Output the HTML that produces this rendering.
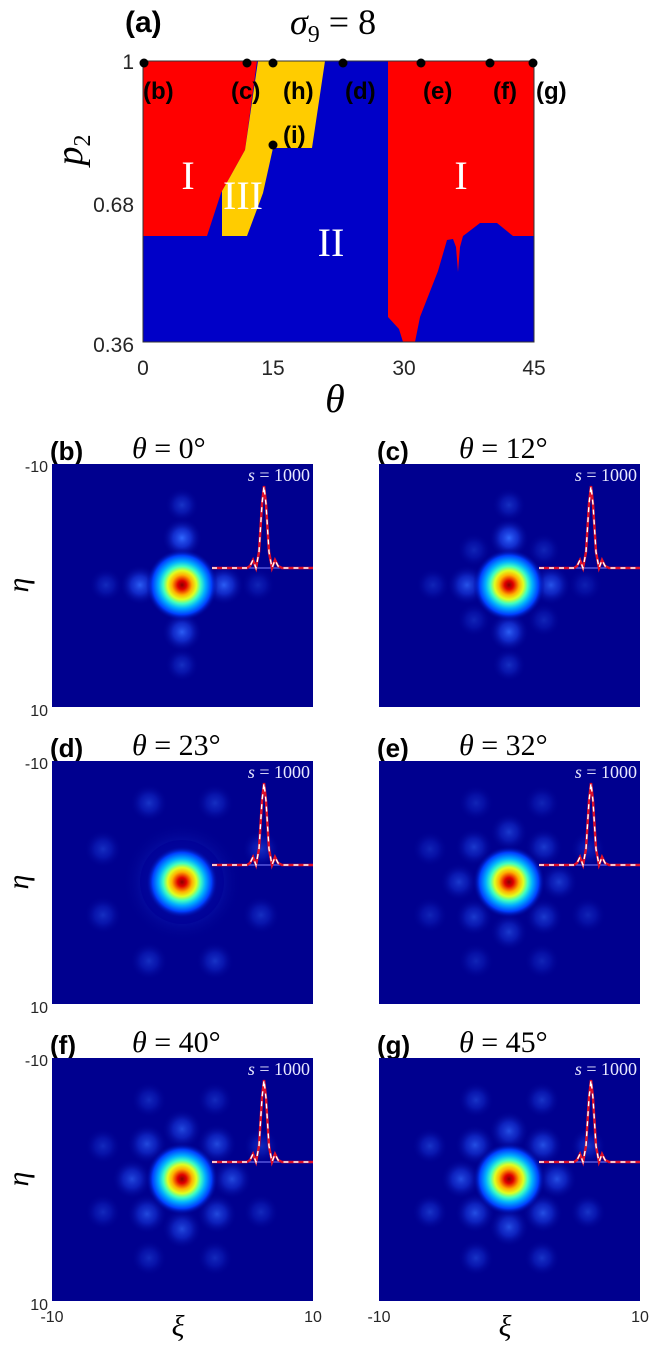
<!DOCTYPE html>
<html><head><meta charset="utf-8"><style>
body{margin:0;background:#fff;}
svg{display:block;}
.tk{font-family:"Liberation Sans",sans-serif;fill:#262626;}
.lb{font-family:"Liberation Sans",sans-serif;font-weight:bold;fill:#000;}
.tm{font-family:"Liberation Serif",serif;}
</style></head><body>
<svg width="650" height="1346" viewBox="0 0 650 1346" xmlns="http://www.w3.org/2000/svg">
<defs>
<radialGradient id="bl"><stop offset="0" stop-color="#3068ff"/><stop offset="0.45" stop-color="#1a40e8" stop-opacity="0.7"/><stop offset="1" stop-color="#00008f" stop-opacity="0"/></radialGradient>
<radialGradient id="core"><stop offset="0" stop-color="#8a0000"/><stop offset="0.12" stop-color="#e00000"/><stop offset="0.28" stop-color="#ffb000"/><stop offset="0.4" stop-color="#e0ff20"/><stop offset="0.52" stop-color="#40ffc0"/><stop offset="0.65" stop-color="#00b0ff"/><stop offset="0.82" stop-color="#0040ff"/><stop offset="1" stop-color="#00008f" stop-opacity="0"/></radialGradient>
<g id="inset">
<line x1="160" y1="104" x2="261" y2="104" stroke="#8080ff" stroke-width="1"/>
<path d="M160,104 L195,104 L198,102 L201,96 L204,104 L207,88 L210,40 L212,22 L214,40 L217,88 L220,104 L223,96 L226,102 L230,104 L261,104" fill="none" stroke="#e0102a" stroke-width="2.5"/>
<path d="M160,104 L195,104 L198,102 L201,96 L204,104 L207,88 L210,40 L212,22 L214,40 L217,88 L220,104 L223,96 L226,102 L230,104 L261,104" fill="none" stroke="#fff" stroke-width="1.4" stroke-dasharray="5,5"/>
<text x="258" y="17" text-anchor="end" class="tm" font-size="18" fill="#e8e8ff"><tspan font-style="italic">s</tspan> = 1000</text>
</g>
</defs>

<!-- Panel (a) -->
<text x="125" y="32" class="lb" font-size="30">(a)</text>
<text x="290" y="34" class="tm" font-size="36" font-style="italic">σ<tspan font-size="24" dy="8" font-style="normal">9</tspan><tspan dy="-8" font-style="normal"> = 8</tspan></text>
<g transform="translate(143,61)">
<rect x="0" y="0" width="391" height="281" fill="#0000c8"/>
<polygon points="0,0 114,0 102,89 87,116 78,132 64,175 0,175" fill="#ff0000"/>
<polygon points="115,0 182,0 169,87 130,87 120,132 104,175 79,175 79,130 87,116 102,89" fill="#ffcc00"/>
<polygon points="245,0 391,0 391,175 370,175 354,162 337,162 324,172 320,175 317,186 315,211 313,186 310,178 304,179 295,210 277,256 272,281 260,281 256,268 245,256" fill="#ff0000"/>
<rect x="0" y="0" width="391" height="281" fill="none" stroke="#333" stroke-width="1"/>
<text x="45" y="128" class="tm" font-size="40" fill="#fff" text-anchor="middle">I</text>
<text x="100" y="148" class="tm" font-size="40" fill="#fff" text-anchor="middle">III</text>
<text x="188" y="195" class="tm" font-size="40" fill="#fff" text-anchor="middle">II</text>
<text x="318" y="128" class="tm" font-size="40" fill="#fff" text-anchor="middle">I</text>
<g fill="#000">
<circle cx="1" cy="2" r="4.5"/><circle cx="104" cy="2" r="4.5"/><circle cx="130" cy="2" r="4.5"/><circle cx="200" cy="2" r="4.5"/><circle cx="278" cy="2" r="4.5"/><circle cx="347" cy="2" r="4.5"/><circle cx="390" cy="2" r="4.5"/><circle cx="130" cy="84" r="4.5"/>
</g>
<g class="lb" font-size="24">
<text x="0" y="38">(b)</text><text x="88" y="38">(c)</text><text x="140" y="38">(h)</text><text x="202" y="38">(d)</text><text x="280" y="38">(e)</text><text x="350" y="38">(f)</text><text x="393" y="38">(g)</text><text x="140" y="82">(i)</text>
</g>
</g>
<g class="tk" font-size="21" text-anchor="end">
<text x="134" y="69">1</text><text x="134" y="212">0.68</text><text x="134" y="352">0.36</text>
</g>
<g class="tk" font-size="21" text-anchor="middle">
<text x="143" y="375">0</text><text x="273" y="375">15</text><text x="404" y="375">30</text><text x="534" y="375">45</text>
</g>
<text x="335" y="412" class="tm" font-size="40" font-style="italic" text-anchor="middle">θ</text>
<text transform="translate(82,150) rotate(-90)" class="tm" font-size="38" font-style="italic" text-anchor="middle">p<tspan font-size="24" dy="8" font-style="normal">2</tspan></text>

<!-- (b) -->
<g transform="translate(52,464)">
<text x="-2" y="-4" class="lb" font-size="26">(b)</text>
<text x="80" y="-6" class="tm" font-size="30"><tspan font-style="italic">θ</tspan> = 0°</text>
<rect width="261" height="243" fill="#00008f"/>
<g transform="translate(130,121)">
<circle cx="0" cy="-47" r="20" fill="url(#bl)"/><circle cx="0" cy="-80" r="17" fill="url(#bl)" opacity=".5"/>
<circle cx="0" cy="47" r="20" fill="url(#bl)" opacity=".9"/><circle cx="0" cy="80" r="17" fill="url(#bl)" opacity=".45"/>
<circle cx="-42" cy="0" r="20" fill="url(#bl)" opacity=".9"/><circle cx="-76" cy="0" r="17" fill="url(#bl)" opacity=".4"/>
<circle cx="42" cy="0" r="20" fill="url(#bl)" opacity=".9"/><circle cx="76" cy="0" r="17" fill="url(#bl)" opacity=".35"/>
<circle cx="0" cy="0" r="36" fill="url(#core)"/>
</g>
<use href="#inset"/>
</g>
<!-- (c) -->
<g transform="translate(379,464)">
<text x="-2" y="-4" class="lb" font-size="26">(c)</text>
<text x="80" y="-6" class="tm" font-size="30"><tspan font-style="italic">θ</tspan> = 12°</text>
<rect width="261" height="243" fill="#00008f"/>
<g transform="translate(130,121)">
<circle cx="0" cy="-47" r="20" fill="url(#bl)"/><circle cx="0" cy="-80" r="17" fill="url(#bl)" opacity=".45"/>
<circle cx="0" cy="47" r="20" fill="url(#bl)" opacity=".9"/><circle cx="0" cy="80" r="17" fill="url(#bl)" opacity=".45"/>
<circle cx="-42" cy="0" r="20" fill="url(#bl)" opacity=".8"/><circle cx="-76" cy="0" r="17" fill="url(#bl)" opacity=".35"/>
<circle cx="42" cy="0" r="20" fill="url(#bl)" opacity=".8"/><circle cx="76" cy="0" r="17" fill="url(#bl)" opacity=".3"/>
<circle cx="35" cy="35" r="17" fill="url(#bl)" opacity=".35"/><circle cx="-35" cy="35" r="17" fill="url(#bl)" opacity=".35"/>
<circle cx="35" cy="-35" r="17" fill="url(#bl)" opacity=".35"/><circle cx="-35" cy="-35" r="17" fill="url(#bl)" opacity=".35"/>
<circle cx="0" cy="0" r="36" fill="url(#core)"/>
</g>
<use href="#inset"/>
</g>
<!-- (d) -->
<g transform="translate(52,761)">
<text x="-2" y="-4" class="lb" font-size="26">(d)</text>
<text x="80" y="-6" class="tm" font-size="30"><tspan font-style="italic">θ</tspan> = 23°</text>
<rect width="261" height="243" fill="#00008f"/>
<g transform="translate(130,121)">
<circle cx="0" cy="0" r="60" fill="url(#bl)" opacity=".7"/>
<circle cx="0" cy="0" r="42" fill="#000096" opacity=".75"/>
<circle cx="79" cy="33" r="19" fill="url(#bl)" opacity=".45"/><circle cx="33" cy="79" r="19" fill="url(#bl)" opacity=".5"/>
<circle cx="-33" cy="79" r="19" fill="url(#bl)" opacity=".45"/><circle cx="-79" cy="33" r="19" fill="url(#bl)" opacity=".45"/>
<circle cx="-79" cy="-33" r="19" fill="url(#bl)" opacity=".45"/><circle cx="-33" cy="-79" r="19" fill="url(#bl)" opacity=".5"/>
<circle cx="33" cy="-79" r="19" fill="url(#bl)" opacity=".45"/><circle cx="79" cy="-33" r="19" fill="url(#bl)" opacity=".45"/>
<circle cx="0" cy="0" r="36" fill="url(#core)"/>
</g>
<use href="#inset"/>
</g>
<!-- (e) -->
<g transform="translate(379,761)">
<text x="-2" y="-4" class="lb" font-size="26">(e)</text>
<text x="80" y="-6" class="tm" font-size="30"><tspan font-style="italic">θ</tspan> = 32°</text>
<rect width="261" height="243" fill="#00008f"/>
<g transform="translate(130,121)">
<circle cx="50" cy="0" r="19" fill="url(#bl)" opacity=".55"/><circle cx="35" cy="35" r="19" fill="url(#bl)" opacity=".55"/>
<circle cx="0" cy="50" r="19" fill="url(#bl)" opacity=".55"/><circle cx="-35" cy="35" r="19" fill="url(#bl)" opacity=".55"/>
<circle cx="-50" cy="0" r="19" fill="url(#bl)" opacity=".55"/><circle cx="-35" cy="-35" r="19" fill="url(#bl)" opacity=".55"/>
<circle cx="0" cy="-50" r="19" fill="url(#bl)" opacity=".55"/><circle cx="35" cy="-35" r="19" fill="url(#bl)" opacity=".55"/>
<circle cx="79" cy="33" r="18" fill="url(#bl)" opacity=".35"/><circle cx="33" cy="79" r="18" fill="url(#bl)" opacity=".35"/>
<circle cx="-33" cy="79" r="18" fill="url(#bl)" opacity=".35"/><circle cx="-79" cy="33" r="18" fill="url(#bl)" opacity=".35"/>
<circle cx="-79" cy="-33" r="18" fill="url(#bl)" opacity=".35"/><circle cx="-33" cy="-79" r="18" fill="url(#bl)" opacity=".35"/>
<circle cx="33" cy="-79" r="18" fill="url(#bl)" opacity=".35"/><circle cx="79" cy="-33" r="18" fill="url(#bl)" opacity=".35"/>
<circle cx="0" cy="0" r="36" fill="url(#core)"/>
</g>
<use href="#inset"/>
</g>
<!-- (f) -->
<g transform="translate(52,1058)">
<text x="-2" y="-4" class="lb" font-size="26">(f)</text>
<text x="80" y="-6" class="tm" font-size="30"><tspan font-style="italic">θ</tspan> = 40°</text>
<rect width="261" height="243" fill="#00008f"/>
<g transform="translate(130,121)">
<circle cx="50" cy="0" r="20" fill="url(#bl)" opacity=".7"/><circle cx="35" cy="35" r="20" fill="url(#bl)" opacity=".7"/>
<circle cx="0" cy="50" r="20" fill="url(#bl)" opacity=".7"/><circle cx="-35" cy="35" r="20" fill="url(#bl)" opacity=".7"/>
<circle cx="-50" cy="0" r="20" fill="url(#bl)" opacity=".7"/><circle cx="-35" cy="-35" r="20" fill="url(#bl)" opacity=".7"/>
<circle cx="0" cy="-50" r="20" fill="url(#bl)" opacity=".7"/><circle cx="35" cy="-35" r="20" fill="url(#bl)" opacity=".7"/>
<circle cx="79" cy="33" r="18" fill="url(#bl)" opacity=".4"/><circle cx="33" cy="79" r="18" fill="url(#bl)" opacity=".4"/>
<circle cx="-33" cy="79" r="18" fill="url(#bl)" opacity=".4"/><circle cx="-79" cy="33" r="18" fill="url(#bl)" opacity=".4"/>
<circle cx="-79" cy="-33" r="18" fill="url(#bl)" opacity=".4"/><circle cx="-33" cy="-79" r="18" fill="url(#bl)" opacity=".4"/>
<circle cx="33" cy="-79" r="18" fill="url(#bl)" opacity=".4"/><circle cx="79" cy="-33" r="18" fill="url(#bl)" opacity=".4"/>
<circle cx="0" cy="0" r="36" fill="url(#core)"/>
</g>
<use href="#inset"/>
</g>
<!-- (g) -->
<g transform="translate(379,1058)">
<text x="-2" y="-4" class="lb" font-size="26">(g)</text>
<text x="80" y="-6" class="tm" font-size="30"><tspan font-style="italic">θ</tspan> = 45°</text>
<rect width="261" height="243" fill="#00008f"/>
<g transform="translate(130,121)">
<circle cx="48" cy="0" r="20" fill="url(#bl)" opacity=".75"/><circle cx="34" cy="34" r="20" fill="url(#bl)" opacity=".75"/>
<circle cx="0" cy="48" r="20" fill="url(#bl)" opacity=".75"/><circle cx="-34" cy="34" r="20" fill="url(#bl)" opacity=".75"/>
<circle cx="-48" cy="0" r="20" fill="url(#bl)" opacity=".75"/><circle cx="-34" cy="-34" r="20" fill="url(#bl)" opacity=".75"/>
<circle cx="0" cy="-48" r="20" fill="url(#bl)" opacity=".75"/><circle cx="34" cy="-34" r="20" fill="url(#bl)" opacity=".75"/>
<circle cx="79" cy="33" r="18" fill="url(#bl)" opacity=".5"/><circle cx="33" cy="79" r="18" fill="url(#bl)" opacity=".5"/>
<circle cx="-33" cy="79" r="18" fill="url(#bl)" opacity=".5"/><circle cx="-79" cy="33" r="18" fill="url(#bl)" opacity=".5"/>
<circle cx="-79" cy="-33" r="18" fill="url(#bl)" opacity=".5"/><circle cx="-33" cy="-79" r="18" fill="url(#bl)" opacity=".5"/>
<circle cx="33" cy="-79" r="18" fill="url(#bl)" opacity=".5"/><circle cx="79" cy="-33" r="18" fill="url(#bl)" opacity=".5"/>
<circle cx="0" cy="0" r="36" fill="url(#core)"/>
</g>
<use href="#inset"/>
</g>

<g class="tk" font-size="16" text-anchor="end">
<text x="48" y="472">-10</text><text x="48" y="716">10</text>
<text x="48" y="769">-10</text><text x="48" y="1013">10</text>
<text x="48" y="1066">-10</text><text x="48" y="1310">10</text>
</g>
<g class="tk" font-size="16" text-anchor="middle">
<text x="52" y="1322">-10</text><text x="313" y="1322">10</text>
<text x="379" y="1322">-10</text><text x="640" y="1322">10</text>
</g>
<g class="tm" font-size="30" font-style="italic" text-anchor="middle">
<text transform="translate(28,585) rotate(-90)">η</text>
<text transform="translate(28,882) rotate(-90)">η</text>
<text transform="translate(28,1179) rotate(-90)">η</text>
<text x="178" y="1336">ξ</text><text x="505" y="1336">ξ</text>
</g>
</svg>
</body></html>
